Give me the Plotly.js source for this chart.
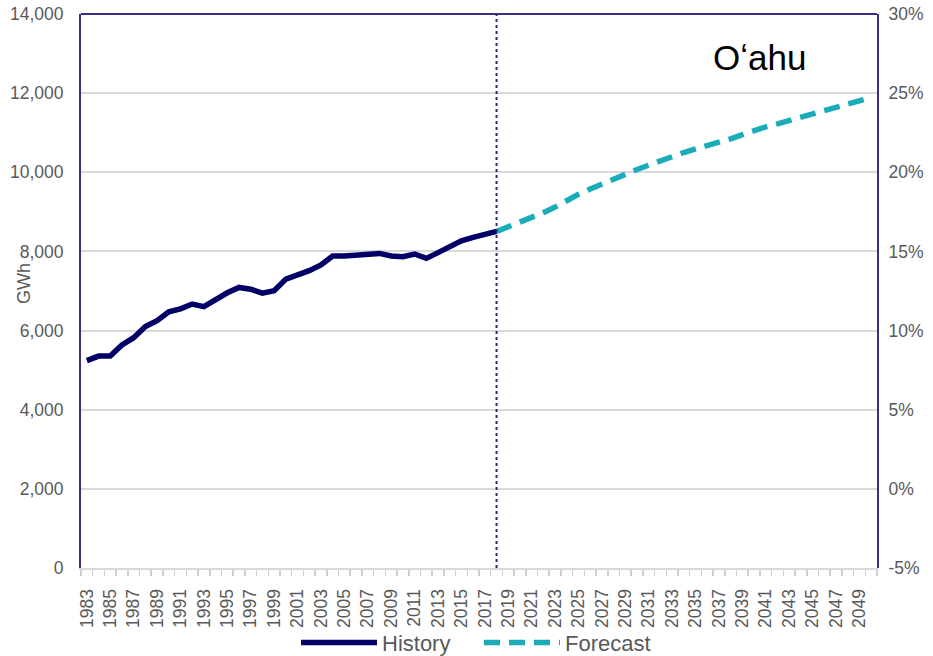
<!DOCTYPE html>
<html>
<head>
<meta charset="utf-8">
<script src="https://cdn.plot.ly/plotly-3.0.1.min.js"></script>
<style>html,body{margin:0;padding:0;background:#fff;}#chart{width:933px;height:656px;}</style>
</head>
<body>
<div id="chart"></div>
<script>
var historyYears = [1983,1984,1985,1986,1987,1988,1989,1990,1991,1992,1993,1994,1995,1996,1997,1998,1999,2000,2001,2002,2003,2004,2005,2006,2007,2008,2009,2010,2011,2012,2013,2014,2015,2016,2017,2018];
var historyGWh = [5240,5355,5360,5635,5820,6100,6250,6475,6550,6670,6605,6790,6955,7090,7045,6945,7005,7300,7395,7515,7660,7885,7885,7895,7935,7950,7885,7865,7935,7825,7970,8120,8270,8355,8430,8505];
var forecastYears = [2018,2019,2020,2021,2022,2023,2024,2025,2026,2027,2028,2029,2030,2031,2032,2033,2034,2035,2036,2037,2038,2039,2040,2041,2042,2043,2044,2045,2046,2047,2048,2049,2050];
var forecastGWh = [8505,8615,8730,8850,8980,9120,9290,9445,9580,9710,9835,9955,10070,10180,10295,10400,10500,10590,10670,10755,10845,10950,11060,11150,11225,11310,11410,11490,11565,11640,11715,11800,11890];
var xTickYears = [1983,1985,1987,1989,1991,1993,1995,1997,1999,2001,2003,2005,2007,2009,2011,2013,2015,2017,2019,2021,2023,2025,2027,2029,2031,2033,2035,2037,2039,2041,2043,2045,2047,2049];
var rightAxisPercents = [-5,0,5,10,15,20,25,30];
var regionName = 'O\u02BBahu';

var font = 'Liberation Sans, Arial, sans-serif';
var tickColor = '#595959';
var purple = '#3b2e7e';

var traces = [
  {x: historyYears, y: historyGWh, type: 'scatter', mode: 'lines', name: 'History',
   line: {color: '#000066', width: 5.5}},
  {x: forecastYears, y: forecastGWh, type: 'scatter', mode: 'lines', name: 'Forecast',
   line: {color: '#1aacb9', width: 5.5, dash: '16px,9px'}}
];

var layout = {
  width: 933, height: 656,
  margin: {l: 81, r: 56, t: 14, b: 88, autoexpand: false},
  paper_bgcolor: '#fff', plot_bgcolor: '#fff',
  font: {family: font, color: tickColor, size: 17.5},
  showlegend: true,
  legend: {orientation: 'h', x: 0.5, xanchor: 'center', y: -0.135, yanchor: 'middle',
           bgcolor: 'rgba(0,0,0,0)',
           font: {family: font, size: 22, color: tickColor}, itemwidth: 76,
           entrywidth: 92, traceorder: 'normal'},
  xaxis: {
    range: [xTickYears[0] - 0.5, forecastYears[forecastYears.length - 1] + 0.5],
    tickmode: 'array', tickvals: xTickYears, ticktext: xTickYears.map(String),
    tickangle: -90, ticks: '', ticklabelstandoff: 12, automargin: false,
    tickfont: {family: font, size: 17.5, color: tickColor},
    showgrid: false, zeroline: false,
    showline: true, linecolor: '#d9d9d9', linewidth: 2,
    minor: {tick0: xTickYears[0] - 0.5, dtick: 1, ticks: 'outside', ticklen: 6, tickcolor: '#d0d0d0', tickwidth: 1.5, showgrid: false}
  },
  yaxis: {
    range: [0, 14000], dtick: 2000, tickformat: ',d', automargin: false,
    tickfont: {family: font, size: 17.5, color: tickColor},
    showgrid: true, gridcolor: '#d9d9d9', gridwidth: 2,
    zeroline: false, showline: true, linecolor: purple, linewidth: 2,
    ticks: '', ticklabelstandoff: 12
  },
  yaxis2: {
    overlaying: 'y', side: 'right',
    range: [rightAxisPercents[0], rightAxisPercents[rightAxisPercents.length - 1]],
    tickmode: 'array', tickvals: rightAxisPercents,
    ticktext: rightAxisPercents.map(function (p) { return p + '%'; }),
    automargin: false,
    tickfont: {family: font, size: 17.5, color: tickColor},
    showgrid: false, zeroline: false, showline: true, linecolor: purple, linewidth: 2,
    ticks: '', ticklabelstandoff: 6
  },
  shapes: [
    {type: 'line', xref: 'x', yref: 'paper', x0: forecastYears[0], x1: forecastYears[0], y0: 0, y1: 1,
     line: {color: '#2d2a6b', width: 2, dash: 'dot'}},
    {type: 'line', xref: 'paper', yref: 'paper', x0: 0, x1: 1, y0: 1, y1: 1,
     line: {color: purple, width: 2}}
  ],
  annotations: [
    {text: regionName, xref: 'paper', yref: 'paper', x: 0.853, y: 0.9206, xanchor: 'center', yanchor: 'middle',
     showarrow: false, font: {family: font, size: 35, color: '#000'}},
    {text: 'GWh', xref: 'paper', yref: 'paper', x: -0.0716, y: 0.5126, xanchor: 'center', yanchor: 'middle',
     textangle: -90, showarrow: false, font: {family: font, size: 18, color: tickColor}}
  ]
};

traces.push({x: [forecastYears[0]], y: [0], yaxis: 'y2', type: 'scatter', mode: 'markers',
  marker: {opacity: 0}, showlegend: false, hoverinfo: 'skip'});

Plotly.newPlot('chart', traces, layout, {displayModeBar: false, staticPlot: true});
</script>
</body>
</html>
